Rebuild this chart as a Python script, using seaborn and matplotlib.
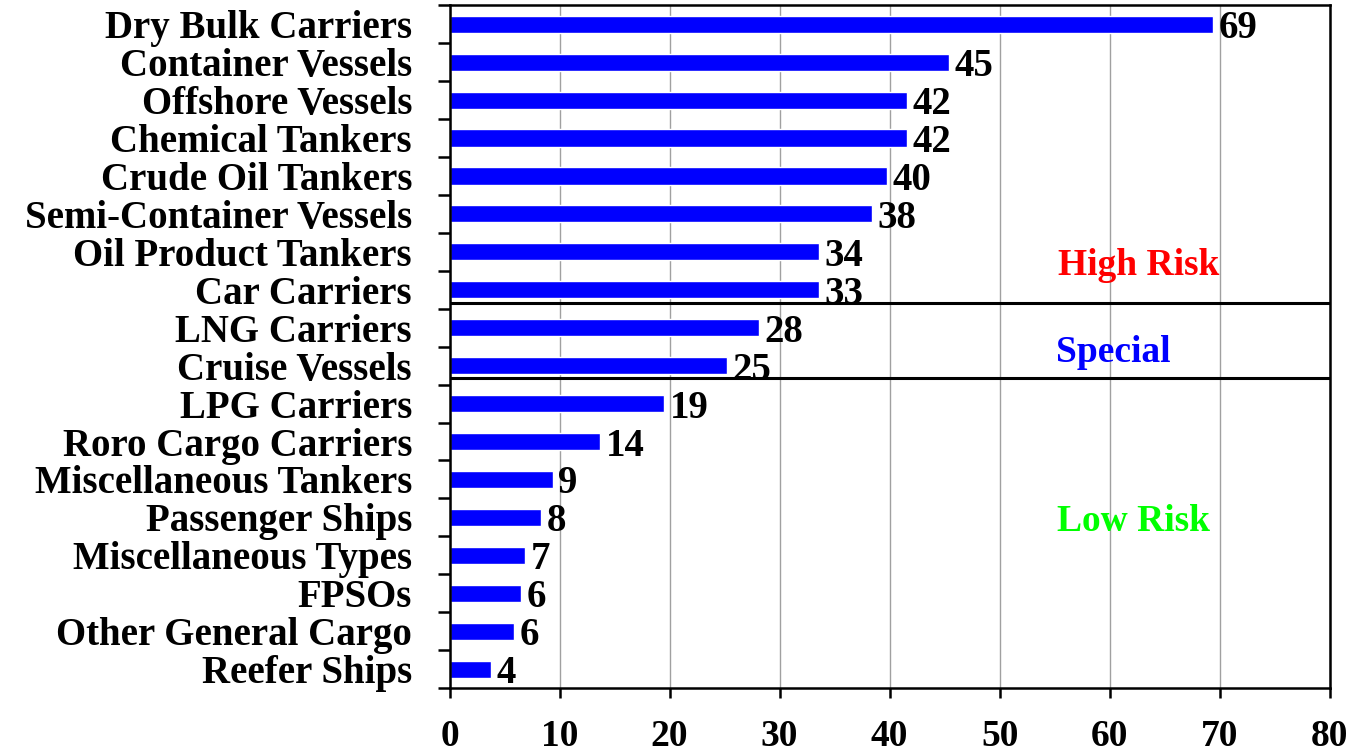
import seaborn as sns
import matplotlib.pyplot as plt
import pandas as pd
from matplotlib.ticker import FixedLocator

# ship types, top to bottom
ship_types = ["Dry Bulk Carriers", "Container Vessels", "Offshore Vessels",
              "Chemical Tankers", "Crude Oil Tankers", "Semi-Container Vessels",
              "Oil Product Tankers", "Car Carriers", "LNG Carriers",
              "Cruise Vessels", "LPG Carriers", "Roro Cargo Carriers",
              "Miscellaneous Tankers", "Passenger Ships", "Miscellaneous Types",
              "FPSOs", "Other General Cargo", "Reefer Ships"]
# bar lengths as drawn
values = [69.4, 45.4, 41.6, 41.6, 39.8, 38.4, 33.6, 33.6, 28.1,
          25.2, 19.5, 13.7, 9.4, 8.3, 6.9, 6.5, 5.9, 3.8]
# printed labels
value_labels = [69, 45, 42, 42, 40, 38, 34, 33, 28, 25, 19, 14, 9, 8, 7, 6, 6, 4]

groups = ["High Risk", "Special", "Low Risk"]
group_colors = ["#ff0000", "#0000ff", "#00ff00"]
x_ticks = [0, 10, 20, 30, 40, 50, 60, 70, 80]

df = pd.DataFrame({"type": ship_types, "value": values})

sns.set_style("white")
plt.rcParams['font.family'] = ['Liberation Serif', 'DejaVu Serif']
plt.rcParams['font.weight'] = 'bold'
plt.rcParams['text.color'] = 'black'
plt.rcParams['xtick.color'] = 'black'
plt.rcParams['ytick.color'] = 'black'

fig = plt.figure(figsize=(13.54, 7.52), dpi=100)
ax = fig.add_axes([0.332, 0.085, 0.65, 0.908])

sns.barplot(data=df, x="value", y="type", color="#0000ff", saturation=1,
            width=0.45, orient="h", ax=ax)

lbls = ax.bar_label(ax.containers[0], labels=[str(v) for v in value_labels],
                    padding=4, fontsize=28, fontweight='bold', color='black')
for t in lbls:
    t.set_verticalalignment('center_baseline')

ax.set_xlim(0, 80)
ax.set_ylim(len(ship_types) - 0.5, -0.5)
ax.set_xticks(x_ticks)
ax.set_xlabel("")
ax.set_ylabel("")
ax.grid(axis='x', color='#a0a0a0', linewidth=1)
ax.set_axisbelow(True)

for s in ax.spines.values():
    s.set_color('black')
    s.set_linewidth(1.8)

# tick marks at category boundaries, labels at centers
ax.yaxis.set_minor_locator(FixedLocator([i - 0.5 for i in range(len(ship_types) + 1)]))
ax.tick_params(axis='y', which='major', length=0, pad=27, labelsize=28,
               labelcolor='black')
ax.tick_params(axis='y', which='minor', length=9, width=1.8, color='black', left=True)
ax.tick_params(axis='x', which='major', length=7, width=1.8, color='black',
               bottom=True, pad=15, labelsize=27, labelcolor='black')
for lab in ax.get_yticklabels() + ax.get_xticklabels():
    lab.set_fontweight('bold')

# group separators
ax.axhline(7.35, color='black', linewidth=2.2)
ax.axhline(9.33, color='black', linewidth=2.2)

ax.text(62.6, 6.35, groups[0], color=group_colors[0], fontsize=27,
        fontweight='bold', ha='center', va='center')
ax.text(60.3, 8.65, groups[1], color=group_colors[1], fontsize=27,
        fontweight='bold', ha='center', va='center')
ax.text(62.2, 13.1, groups[2], color=group_colors[2], fontsize=27,
        fontweight='bold', ha='center', va='center')

fig.savefig("out.png", dpi=100)
